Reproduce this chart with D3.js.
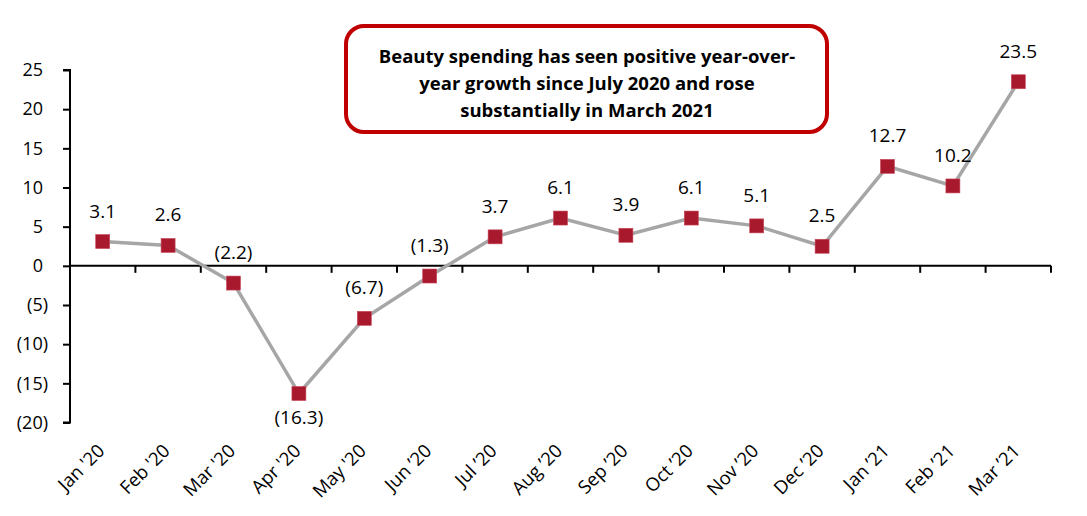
<!DOCTYPE html>
<html><head><meta charset="utf-8">
<script src="https://cdn.jsdelivr.net/npm/d3@7"></script>
<style>body{margin:0;background:#fff;} text{font-family:"Open Sans",sans-serif;}</style>
</head><body>
<svg id="c" width="1087" height="516"></svg>
<script>
const categories = ["Jan '20","Feb '20","Mar '20","Apr '20","May '20","Jun \u201920","Jul \u201920","Aug \u201920","Sep \u201920","Oct \u201920","Nov \u201920","Dec \u201920","Jan \u201921","Feb \u201921","Mar \u201921"];
const values = [3.1, 2.6, -2.2, -16.3, -6.7, -1.3, 3.7, 6.1, 3.9, 6.1, 5.1, 2.5, 12.7, 10.2, 23.5];
const yTicks = [25, 20, 15, 10, 5, 0, -5, -10, -15, -20];
const noteLines = ["Beauty spending has seen positive year-over-", "year growth since July 2020 and rose", "substantially in March 2021"];

const svg = d3.select("#c");
const fmt = v => v < 0 ? "(" + Math.abs(v) + ")" : String(v);
const x = d3.scaleBand().domain(categories).range([70, 1051]);
const y = d3.scaleLinear().domain([-20, 25]).range([422.5, 70]);

// y axis
const ya = svg.append("g").attr("transform","translate(70,0)")
  .call(d3.axisLeft(y).tickValues(yTicks).tickSize(7).tickFormat(fmt));
ya.select(".domain").attr("stroke","#000").attr("stroke-width",2).attr("d","M-7,"+y(-20)+"H0V"+y(25)+"H-7");
ya.selectAll(".tick line").attr("stroke","#000").attr("stroke-width",2);
ya.selectAll(".tick text").attr("font-size",18).attr("fill","#000")
  .attr("font-family","'Open Sans',sans-serif")
  .attr("x", d => d < 0 ? -22 : -27);

// x axis at 0
const xa = svg.append("g").attr("transform","translate(0,"+y(0)+")")
  .call(d3.axisBottom(x).tickSize(0).tickFormat(""));
xa.select(".domain").attr("stroke","#000").attr("stroke-width",2).attr("d","M70,0H1051");
const bounds = categories.map(c => x(c)).concat([x.range()[1]]).slice(1);
xa.selectAll(".btick").data(bounds).enter().append("line")
  .attr("x1",d=>d).attr("x2",d=>d).attr("y1",0).attr("y2",7)
  .attr("stroke","#000").attr("stroke-width",2);

// x labels
svg.append("g").selectAll("text").data(categories).enter().append("text")
  .attr("transform", d => "translate(" + (x(d)+x.bandwidth()/2+3) + ",452) rotate(-45)")
  .attr("text-anchor","end").attr("font-size",18.5).attr("fill","#000").text(d => d);

// line
const cx = (d,i) => x(categories[i]) + x.bandwidth()/2;
svg.append("path").datum(values)
  .attr("d", d3.line().x((d,i)=>cx(d,i)).y(d=>y(d)))
  .attr("fill","none").attr("stroke","#a6a6a6").attr("stroke-width",3.5);

// markers
svg.append("g").selectAll("rect").data(values).enter().append("rect")
  .attr("x",(d,i)=>cx(d,i)-7).attr("y",d=>y(d)-7).attr("width",14).attr("height",14)
  .attr("fill","#a8192e").attr("stroke","#c94a5c").attr("stroke-width",0.6);

// data labels
svg.append("g").selectAll("text").data(values).enter().append("text")
  .attr("x",(d,i)=>cx(d,i)).attr("y",(d,i)=> i===3 ? y(d)+30 : y(d)-24)
  .attr("text-anchor","middle").attr("font-size",19).attr("fill","#000").text(d=>fmt(d));

// note box
svg.append("rect").attr("x",346).attr("y",26).attr("width",481).attr("height",106)
  .attr("rx",18).attr("ry",18).attr("fill","#fff").attr("stroke","#c00000").attr("stroke-width",4);
svg.append("g").selectAll("text").data(noteLines).enter().append("text")
  .attr("x",587).attr("y",(d,i)=>63+i*27).attr("text-anchor","middle")
  .attr("font-size",18.5).attr("font-weight","bold").attr("fill","#000").text(d=>d);
</script>
</body></html>
